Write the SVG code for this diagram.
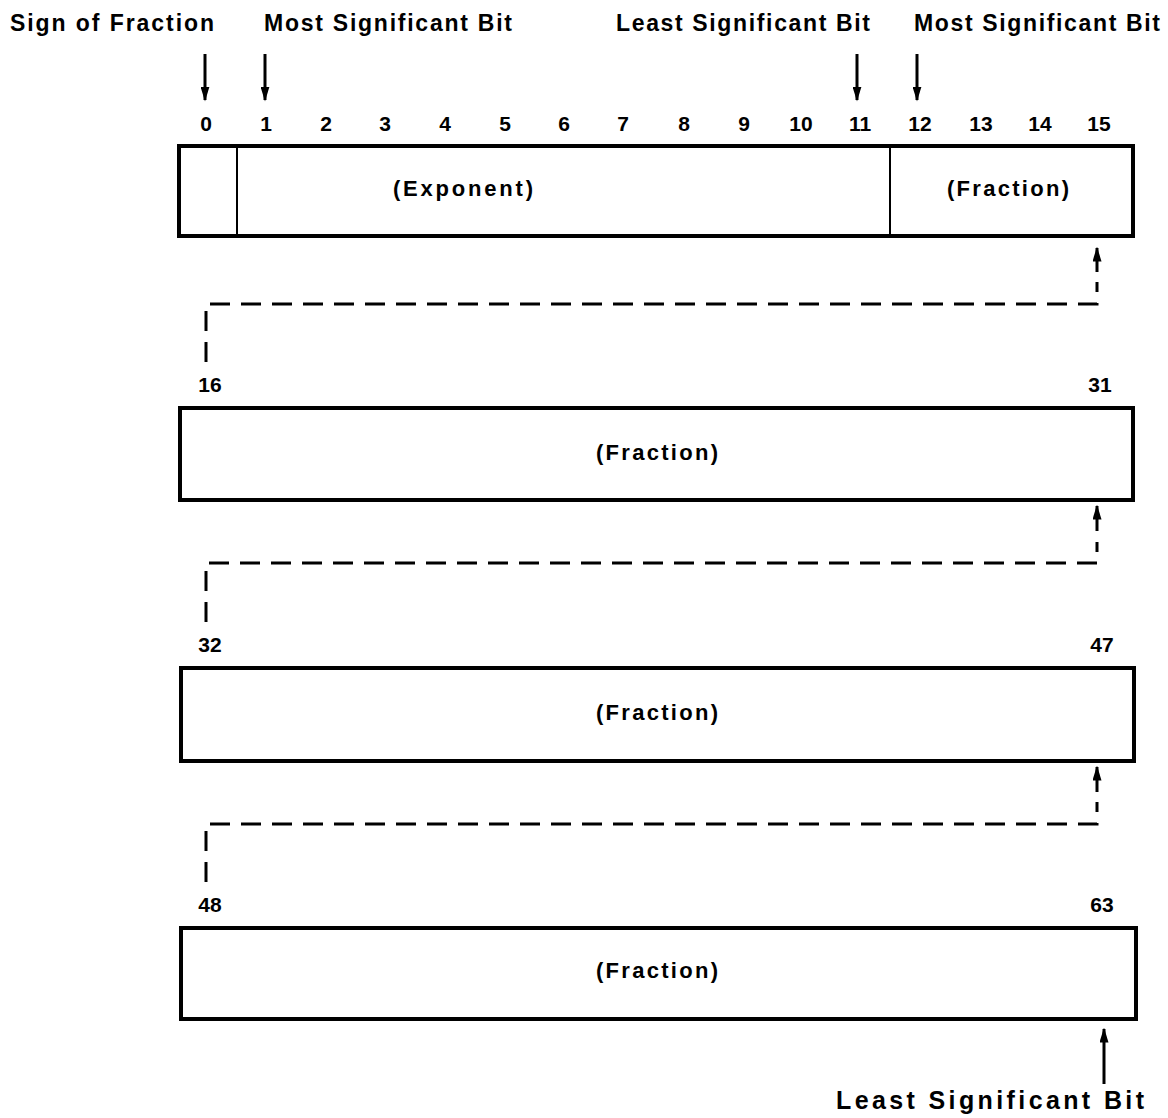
<svg xmlns="http://www.w3.org/2000/svg" width="1168" height="1118" viewBox="0 0 1168 1118">
<style>
text{font-family:"Liberation Sans",Arial,sans-serif;font-weight:bold;fill:#000}
.lbl{font-size:23px}
.lbl2{font-size:25px}
.num{font-size:21px;text-anchor:middle}
.fld{font-size:22px;text-anchor:middle}
.box{fill:#fff;stroke:#000;stroke-width:4}
.div{stroke:#000;stroke-width:2}
.arr{stroke:#000;stroke-width:3;fill:none}
.dash{stroke:#000;stroke-width:3;fill:none;stroke-dasharray:20,11}
</style>
<defs>
<marker id="ah" markerWidth="5" markerHeight="3" refX="4.5" refY="1.5" orient="auto" markerUnits="strokeWidth" viewBox="0 0 5 3">
<path d="M0,0 L5,1.5 L0,3 Z" fill="#000"/>
</marker>
</defs>
<g id="labels">
<text class="lbl" x="10" y="31" textLength="204" lengthAdjust="spacing">Sign of Fraction</text>
<text class="lbl" x="264" y="31" textLength="248" lengthAdjust="spacing">Most Significant Bit</text>
<text class="lbl" x="616" y="31" textLength="254" lengthAdjust="spacing">Least Significant Bit</text>
<text class="lbl" x="914" y="31" textLength="246" lengthAdjust="spacing">Most Significant Bit</text>
<text class="lbl2" x="836" y="1109" textLength="308" lengthAdjust="spacing">Least Significant Bit</text>
</g>
<g id="bitnumbers">
<text class="num" x="206" y="131">0</text>
<text class="num" x="266" y="131">1</text>
<text class="num" x="326" y="131">2</text>
<text class="num" x="385" y="131">3</text>
<text class="num" x="445" y="131">4</text>
<text class="num" x="505" y="131">5</text>
<text class="num" x="564" y="131">6</text>
<text class="num" x="623" y="131">7</text>
<text class="num" x="684" y="131">8</text>
<text class="num" x="744" y="131">9</text>
<text class="num" x="801" y="131">10</text>
<text class="num" x="860" y="131">11</text>
<text class="num" x="920" y="131">12</text>
<text class="num" x="981" y="131">13</text>
<text class="num" x="1040" y="131">14</text>
<text class="num" x="1099" y="131">15</text>
<text class="num" x="210" y="392">16</text>
<text class="num" x="1100" y="392">31</text>
<text class="num" x="210" y="652">32</text>
<text class="num" x="1102" y="652">47</text>
<text class="num" x="210" y="912">48</text>
<text class="num" x="1102" y="912">63</text>
</g>
<g id="word1">
<rect class="box" x="179" y="146" width="954" height="90"/>
<line class="div" x1="237" y1="146" x2="237" y2="236"/>
<line class="div" x1="890" y1="146" x2="890" y2="236"/>
<text class="fld" x="463" y="196" textLength="140" lengthAdjust="spacing">(Exponent)</text>
<text class="fld" x="1008" y="196" textLength="122" lengthAdjust="spacing">(Fraction)</text>
</g>
<g id="word2">
<rect class="box" x="180" y="408" width="953" height="92"/>
<text class="fld" x="657" y="460" textLength="122" lengthAdjust="spacing">(Fraction)</text>
</g>
<g id="word3">
<rect class="box" x="181" y="668" width="953" height="93"/>
<text class="fld" x="657" y="720" textLength="122" lengthAdjust="spacing">(Fraction)</text>
</g>
<g id="word4">
<rect class="box" x="181" y="928" width="955" height="91"/>
<text class="fld" x="657" y="978" textLength="122" lengthAdjust="spacing">(Fraction)</text>
</g>
<g id="connectors">
<line class="arr" x1="205" y1="54" x2="205" y2="100" marker-end="url(#ah)"/>
<line class="arr" x1="265" y1="54" x2="265" y2="100" marker-end="url(#ah)"/>
<line class="arr" x1="857" y1="54" x2="857" y2="100" marker-end="url(#ah)"/>
<line class="arr" x1="917" y1="54" x2="917" y2="100" marker-end="url(#ah)"/>
<path class="dash" d="M206,362 V304 H1097 V282"/>
<line class="arr" x1="1097" y1="272" x2="1097" y2="248" marker-end="url(#ah)"/>
<path class="dash" d="M206,622 V563 H1097 V542"/>
<line class="arr" x1="1097" y1="531" x2="1097" y2="506" marker-end="url(#ah)"/>
<path class="dash" d="M206,882 V824 H1097 V802"/>
<line class="arr" x1="1097" y1="792" x2="1097" y2="767" marker-end="url(#ah)"/>
<line class="arr" x1="1104" y1="1084" x2="1104" y2="1029" marker-end="url(#ah)"/>
</g>
</svg>
